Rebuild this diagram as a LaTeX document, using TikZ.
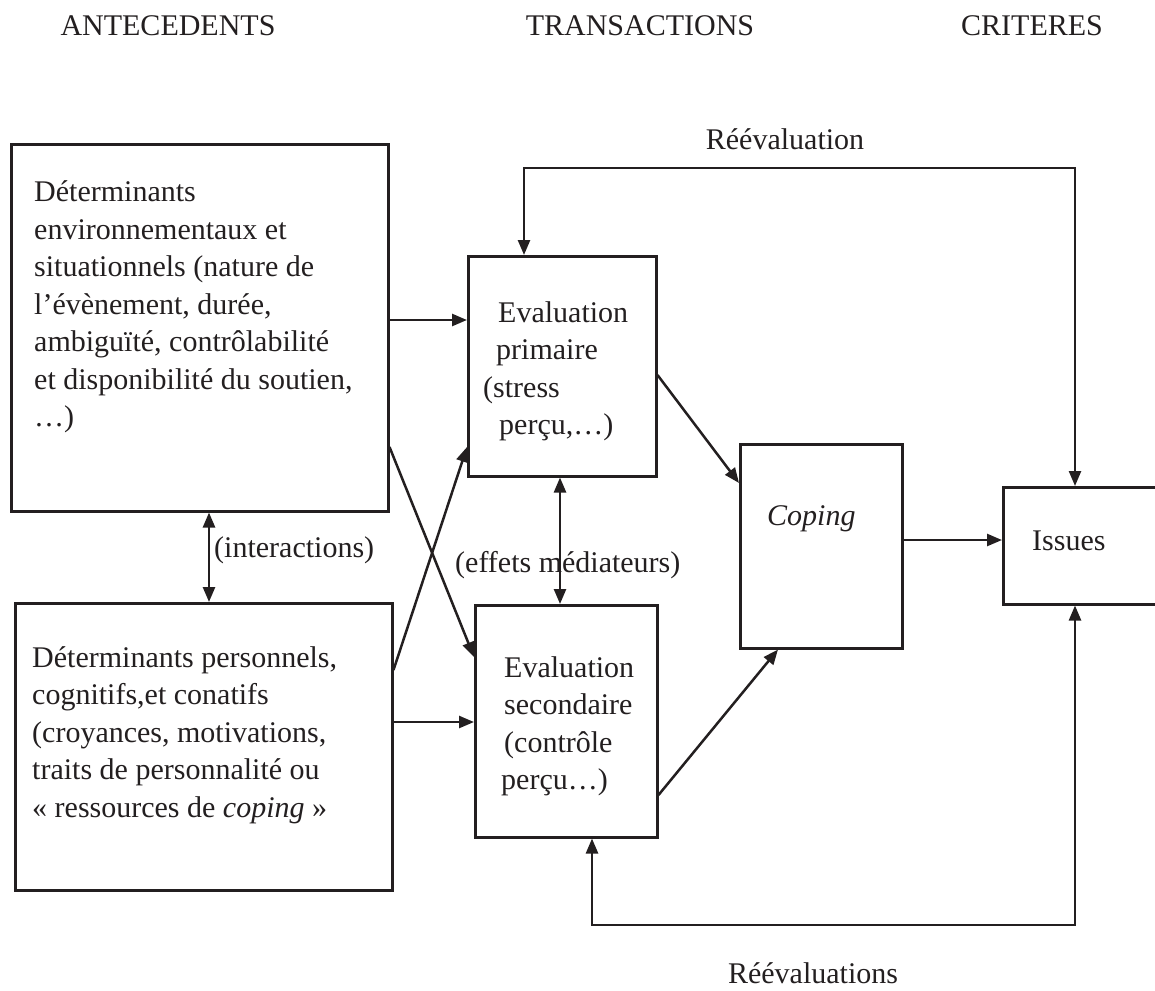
\documentclass[tikz,border=0pt]{standalone}
\usepackage{fontspec}
\setmainfont{Liberation Serif}
\usetikzlibrary{arrows.meta}
\definecolor{ink}{RGB}{35,31,32}
\begin{document}
\begin{tikzpicture}[x=1pt,y=-1pt,
  >={Triangle[length=15pt,width=12pt]},
  box/.style={draw=ink, line width=2.5pt, rectangle, inner sep=0pt, anchor=north west},
  txt/.style={text=ink, inner sep=0pt, font=\fontsize{30}{37.5}\selectfont},
  para/.style={txt, align=left, anchor=north west},
  lbl/.style={txt, anchor=base},
  lblw/.style={txt, anchor=base west},
  link/.style={draw=ink, line width=2.5pt, ->},
  twoway/.style={draw=ink, line width=2.5pt, <->},
  loopway/.style={draw=ink, line width=2.5pt, <->, line join=miter},
]
\useasboundingbox (0,0) rectangle (1155,990);
\clip (0,0) rectangle (1155,990);

% column headings
\node[lbl] (h1) at (168,36) {ANTECEDENTS};
\node[lbl] (h2) at (640,36) {TRANSACTIONS};
\node[lbl] (h3) at (1032,36) {CRITERES};

% boxes
\node[box, minimum width=377pt, minimum height=367pt] (A) at (10,143) {};
\node[box, minimum width=377pt, minimum height=287pt] (B) at (14,602) {};
\node[box, minimum width=188pt, minimum height=220pt] (C) at (467,255) {};
\node[box, minimum width=182pt, minimum height=232pt] (D) at (474,604) {};
\node[box, minimum width=162pt, minimum height=204pt] (Cop) at (739,443) {};
\node[box, minimum width=175pt, minimum height=117pt] (Iss) at (1002,486) {};

% box contents
\node[para] (ta) at (34,175.5) {\strut Déterminants\\ environnementaux et\\ situationnels (nature de\\ l’évènement, durée,\\ ambiguïté, contrôlabilité\\ et disponibilité du soutien,\\ …)};
\node[para] (tb) at (32,640.75) {\strut Déterminants personnels,\\ cognitifs,et conatifs\\ (croyances, motivations,\\ traits de personnalité ou\\ « ressources de \textit{coping} »};
\node[para] (tc) at (483,295.75) {\strut\hspace*{15pt}Evaluation\\ \hspace*{13pt}primaire\\ (stress\\ \hspace*{16pt}perçu,…)};
\node[para] (td) at (501,650.75) {\strut\hspace*{3pt}Evaluation\\ \hspace*{3pt}secondaire\\ \hspace*{3pt}(contrôle\\ perçu…)};
\node[lblw] (tcop) at (767,525) {\textit{Coping}};
\node[lblw] (tiss) at (1032,550) {Issues};

% free labels
\node[lblw] (inter) at (214,557) {(interactions)};
\node[lblw] (med) at (455,572) {(effets médiateurs)};
\node[lbl] (reev1) at (785,149) {Réévaluation};
\node[lbl] (reev2) at (813,983) {Réévaluations};

% corners of the feedback loops
\coordinate (tl) at (524,168);
\coordinate (tr) at (1075,168);
\coordinate (bl) at (592,925);
\coordinate (br) at (1075,925);

% antecedents to transactions
\draw[link] (A.east |- 0,320) -- (C.west |- 0,320);
\draw[link] (A.east |- 0,447) -- (D.west |- 0,657);
\draw[link] (B.east |- 0,670) -- (C.west |- 0,447);
\draw[link] (B.east |- 0,722) -- (D.west |- 0,722);
\draw[twoway] (A.south -| 209,0) -- (B.north -| 209,0);
\draw[twoway] (C.south -| 560,0) -- (D.north -| 560,0);

% transactions to coping and outcomes
\draw[link] (C.east |- 0,375) -- (Cop.west |- 0,483);
\draw[link] (D.east |- 0,795) -- (Cop.south -| 778,0);
\draw[link] (Cop.east |- 0,540) -- (Iss.west |- 0,540);

% reappraisal loops
\draw[loopway] (C.north -| tl) -- (tl) -- (tr) -- (Iss.north -| tr);
\draw[loopway] (D.south -| bl) -- (bl) -- (br) -- (Iss.south -| br);
\end{tikzpicture}
\end{document}
